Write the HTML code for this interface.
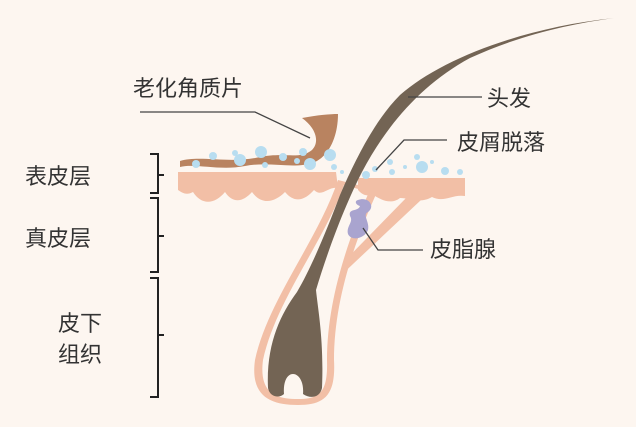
<!DOCTYPE html>
<html><head><meta charset="utf-8"><style>
html,body{margin:0;padding:0;background:#fdf6f0;}
svg{display:block}
text{font-family:"Liberation Sans","Noto Sans CJK SC",sans-serif;fill:#333;font-size:22px}
</style></head><body>
<svg width="636" height="427" viewBox="0 0 636 427">
<rect width="636" height="427" fill="#fdf6f0"/>
<!-- gland branch -->
<path d="M324,282 L408,196 L421,200 L336,280 Z" fill="#f2bfa6"/>
<!-- follicle sheath -->
<path d="M338,180 C318,240 268,300 255,360 C250,396 270,405 298,405 C324,405 336,396 334,360 C334,300 355,240 378,190 Z" fill="#f2bfa6"/>
<path d="M344,185 C325,240 276,300 263,360 C259,392 274,399 298,399 C320,399 328,392 327,360 C327,300 348,240 369,192 Z" fill="#fdf6f0"/>
<!-- epidermis left -->
<path d="M178,172 L336,172 L338,188 C328,186 322,198 314,190 C305,200 295,204 285,192 C275,202 262,206 252,192 C243,202 233,204 225,192 C215,204 202,206 193,192 C186,196 181,192 178,190 Z" fill="#f2bfa6"/>
<!-- epidermis right -->
<path d="M358,178 L465,178 L465,196 C452,194 444,203 432,197 C420,204 410,198 400,198 C390,206 378,198 372,194 C365,198 360,192 358,190 Z" fill="#f2bfa6"/>
<!-- keratin flake & wavy line -->
<path d="M180,161 C200,155 230,164 260,157 C285,152 300,160 312,150 C320,142 316,128 302,118 C318,115 330,114 338,114 C338,135 330,155 315,162 C295,170 270,161 245,166 C220,171 195,163 180,167 Z" fill="#b98360"/>
<!-- bubbles -->
<g fill="#b8ddf0">
<circle cx="196" cy="164" r="4"/><circle cx="213" cy="156" r="4"/><circle cx="235" cy="153" r="3"/><circle cx="240" cy="160" r="6"/><circle cx="261" cy="152" r="6"/><circle cx="265" cy="165" r="3"/><circle cx="283" cy="157" r="4"/><circle cx="297" cy="161" r="3"/><circle cx="303" cy="152" r="4"/><circle cx="310" cy="164" r="6"/><circle cx="330" cy="155" r="6"/><circle cx="334" cy="167" r="3"/><circle cx="342" cy="172" r="2"/>
<circle cx="366" cy="175" r="4"/><circle cx="375" cy="169" r="3"/><circle cx="390" cy="162" r="3"/><circle cx="392" cy="172" r="3"/><circle cx="405" cy="167" r="2"/><circle cx="422" cy="167" r="6"/><circle cx="417" cy="157" r="3"/><circle cx="445" cy="171" r="4"/><circle cx="460" cy="172" r="3"/><circle cx="432" cy="162" r="2"/>
</g>
<!-- sebaceous gland -->
<path d="M358,200 C368,196 376,206 368,212 C362,215 370,222 368,230 C365,238 352,242 348,234 C346,226 354,222 350,216 C348,208 358,212 360,206 C356,205 354,201 358,200 Z" fill="#a9a4cf"/>
<!-- hair -->
<path d="M614,18 C520,28 440,60 400,95 C375,120 355,160 340,195 C325,235 310,270 297,292 C280,315 266,345 268,388 C270,398 280,398 284,394 C283,382 287,374 293,374 C299,374 304,382 303,394 C310,399 320,398 322,388 C324,340 318,310 316,290 C328,250 345,205 362,172 C385,128 420,85 470,58 C520,35 570,24 614,18 Z" fill="#736454"/>
<!-- connector lines -->
<g stroke="#444" stroke-width="1.3" fill="none">
<path d="M140,112 L255,112 L310,138"/>
<path d="M408,97 L482,97"/>
<path d="M376,170 L404,140 L447,140"/>
<path d="M363,228 L378,250 L423,250"/>
</g>
<!-- brackets -->
<g stroke="#222" stroke-width="2" fill="none">
<path d="M150,154 L158,154 L158,193 L150,193 M158,175 L164,175"/>
<path d="M150,198 L158,198 L158,272 L150,272 M158,236 L164,236"/>
<path d="M150,278 L158,278 L158,397 L150,397 M158,335 L164,335"/>
</g>
<!-- labels -->
<text x="133" y="96">老化角质片</text>
<text x="487" y="106">头发</text>
<text x="457" y="150">皮屑脱落</text>
<text x="430" y="257">皮脂腺</text>
<text x="25" y="184">表皮层</text>
<text x="25" y="246">真皮层</text>
<text x="58" y="331">皮下</text>
<text x="58" y="362">组织</text>
</svg>
</body></html>
